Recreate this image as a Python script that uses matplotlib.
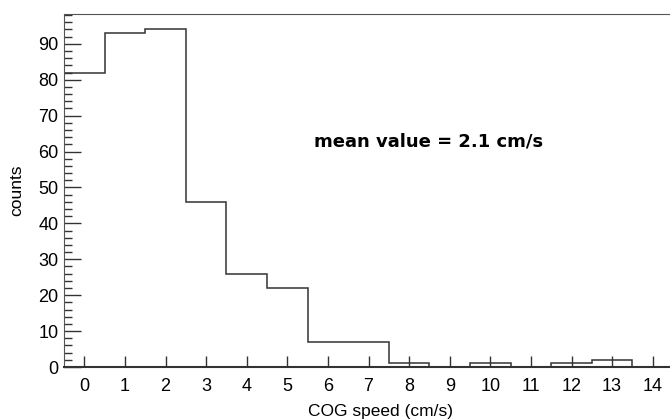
import numpy as np
import matplotlib.pyplot as plt
from matplotlib.ticker import MultipleLocator

# histogram of COG speed, one bin per cm/s
speed = [0, 1, 2, 3, 4, 5, 6, 7, 8, 9, 10, 11, 12, 13, 14]
counts = [82, 93, 94, 46, 26, 22, 7, 7, 1, 0, 1, 0, 1, 2, 0]
mean_label = "mean value = 2.1 cm/s"

plt.rcParams['font.family'] = ['Liberation Sans', 'DejaVu Sans']

fig = plt.figure(figsize=(6.7, 4.19), dpi=100)
ax = fig.add_axes([64 / 670, (419 - 367) / 419, 609 / 670, 353 / 419])

edges = np.arange(len(speed) + 1) - 0.5
ax.stairs(counts, edges, color='#333333', linewidth=1.1)

ax.set_xlim(-0.5, 14.5)
ax.set_ylim(0, 98.3)
ax.xaxis.set_major_locator(MultipleLocator(1))
ax.yaxis.set_major_locator(MultipleLocator(10))
ax.yaxis.set_minor_locator(MultipleLocator(2))

ax.tick_params(axis='x', direction='in', length=8, width=1, labelsize=13, pad=8,
               color='#333333')
ax.tick_params(axis='y', which='major', direction='in', length=12, width=1,
               labelsize=13, pad=4, color='#333333')
ax.tick_params(axis='y', which='minor', direction='in', length=6, width=1,
               color='#333333')

ax.spines['right'].set_visible(False)
ax.spines['top'].set_color('#555555')
ax.spines['left'].set_color('#555555')
ax.spines['bottom'].set_color('#333333')
ax.spines['bottom'].set_linewidth(1.5)

ax.set_xlabel("COG speed (cm/s)", fontsize=12.5)
ax.xaxis.set_label_coords(0.52, -0.104)
ax.set_ylabel("counts", fontsize=12.5)
ax.yaxis.set_label_coords(-0.065, 0.5)

ax.text(5.65, 62.7, mean_label, fontsize=13, fontweight='bold',
        family='DejaVu Sans', va='center', ha='left')

fig.savefig("out.png", dpi=100)
